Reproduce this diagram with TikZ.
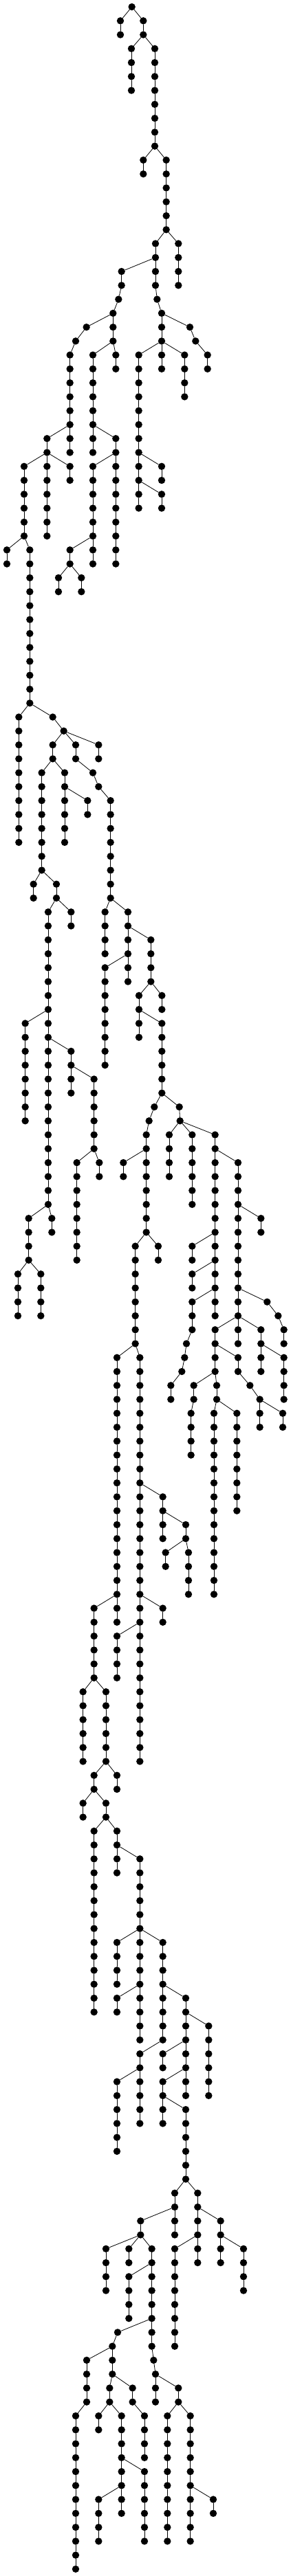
\documentclass[tikz,border=0pt]{standalone}
\begin{document}
\begin{tikzpicture}[x=0.33333pt,y=-20.266pt,line join=round,line cap=round,
	vtx/.style={circle,fill=black,inner sep=0pt,minimum size=10.4pt},
	link/.style={line width=0.8pt}]
	\useasboundingbox (0,-0.4934) rectangle (1269,184.5);
	% x/first row/last row
	\def\cols{575/0/0, 525/1/2, 625/1/2, 573/3/6, 675/3/10, 625/11/12, 725/11/16,
		778/17/20, 678/17/20, 685/21/21, 705/22/26, 530/19/20, 517/21/21, 493/22/24,
		377/23/23, 330/24/24, 305/25/32, 405/25/32, 505/25/26, 828/23/23, 853/24/24,
		905/25/26, 605/25/36, 805/25/28, 205/31/38, 105/33/38, 305/33/34, 30/39/40,
		130/39/50, 505/31/40, 405/33/40, 305/39/40, 255/41/42, 355/41/42, 705/33/34,
		705/35/36, 82/51/60, 230/51/51, 278/52/52, 230/53/54, 330/53/54, 430/53/54,
		405/55/55, 430/56/56, 482/57/64, 182/55/62, 282/55/60, 382/57/58, 146/63/64,
		246/63/64, 210/65/86, 310/65/66, 110/73/80, 310/75/78, 410/77/82, 433/83/84,
		335/83/90, 125/87/90, 226/87/88, 78/91/94, 178/91/94, 458/65/68, 558/65/70,
		658/67/70, 458/69/76, 606/71/74, 706/71/72, 706/73/78, 673/79/79, 650/80/80,
		638/81/88, 538/83/84, 690/89/90, 590/89/96, 782/79/79, 785/80/80, 738/81/84,
		838/81/86, 938/81/94, 1038/83/96, 1138/87/88, 838/89/90, 838/91/92, 838/93/95,
		813/96/96, 805/97/97, 793/98/98, 745/99/100, 1165/93/93, 1213/94/94,
		1238/95/96, 938/95/98, 1138/95/98, 1238/97/100, 1038/97/98, 1090/99/99,
		1133/100/102, 1233/101/102, 845/99/100, 833/101/104, 945/99/100, 933/101/114,
		1033/101/108, 510/97/116, 610/97/126, 710/107/110, 810/109/110, 722/111/112,
		822/111/114, 410/115/120, 710/115/116, 510/117/120, 362/121/126, 462/121/126,
		410/127/128, 510/127/128, 362/129/130, 462/129/130, 410/131/144, 510/131/134,
		610/133/146, 510/139/142, 710/139/146, 510/143/144, 810/143/150, 910/145/150,
		610/147/152, 710/147/148, 710/149/152, 810/151/156, 510/149/154, 762/157/160,
		862/157/162, 613/159/160, 962/159/162, 762/161/168, 1062/161/164, 462/161/164,
		562/161/162, 662/161/168, 562/163/166, 513/167/167, 490/168/170, 670/169/169,
		678/170/172, 778/171/172, 730/173/182, 830/173/182, 930/179/180, 378/169/172,
		330/173/184, 478/171/172, 578/171/172, 430/173/174, 530/173/180, 630/177/182,
		430/179/182, 630/173/176}
	% parent x/row/child x
	\def\forks{575/0/525, 575/0/625, 625/2/573, 625/2/675, 675/10/625, 675/10/725,
		725/16/778, 725/16/678, 678/20/685, 685/21/705, 678/18/530, 530/20/517,
		517/21/493, 493/22/377, 377/23/330, 330/24/305, 493/24/405, 493/24/505,
		705/22/828, 828/23/853, 853/24/905, 705/24/605, 705/24/805, 305/30/205,
		205/32/105, 205/32/305, 105/38/30, 105/38/130, 405/30/505, 505/32/405,
		405/38/305, 305/40/255, 305/40/355, 605/32/705, 605/34/705, 130/50/82,
		130/50/230, 230/51/278, 278/52/230, 278/52/330, 278/52/430, 330/54/405,
		405/55/430, 430/56/482, 230/54/182, 230/54/282, 282/56/382, 182/62/146,
		182/62/246, 246/64/210, 246/64/310, 210/72/110, 210/74/310, 310/76/410,
		410/82/433, 410/82/335, 210/86/125, 210/86/226, 125/90/78, 125/90/178,
		482/64/458, 482/64/558, 558/66/658, 558/68/458, 658/70/606, 658/70/706,
		606/72/706, 706/78/673, 673/79/650, 650/80/638, 638/82/538, 638/88/690,
		638/88/590, 706/78/782, 782/79/785, 785/80/738, 785/80/838, 785/80/938,
		938/82/1038, 1038/86/1138, 938/88/838, 938/90/838, 938/92/838, 838/95/813,
		813/96/805, 805/97/793, 793/98/745, 1038/92/1165, 1165/93/1213, 1213/94/1238,
		1038/94/938, 1038/94/1138, 1138/96/1238, 938/96/1038, 1038/98/1090,
		1090/99/1133, 1133/100/1233, 938/98/845, 845/100/833, 938/98/945,
		945/100/933, 945/100/1033, 590/96/510, 590/96/610, 610/106/710, 710/108/810,
		810/110/722, 810/110/822, 510/114/410, 610/114/710, 610/116/510, 410/120/362,
		410/120/462, 462/126/410, 462/126/510, 410/128/362, 410/128/462, 462/130/410,
		462/130/510, 510/132/610, 610/138/510, 610/138/710, 610/142/510, 710/142/810,
		810/144/910, 710/146/610, 810/146/710, 810/148/710, 710/150/810, 610/148/510,
		810/156/762, 810/156/862, 762/158/613, 862/158/962, 862/160/762, 962/160/1062,
		613/160/462, 613/160/562, 613/160/662, 662/162/562, 662/166/513, 513/167/490,
		662/168/670, 670/169/678, 678/170/778, 778/172/730, 778/172/830, 830/178/930,
		490/168/378, 378/172/330, 490/170/478, 490/170/578, 478/172/430, 478/172/530,
		530/176/630, 530/178/430, 578/172/630}
	\foreach \x/\a/\b in \cols {
		\foreach \r in {\a,...,\b}
		\node[vtx] (n\x-\r) at (\x,\r) {};
		\ifnum\a<\b
		\pgfmathtruncatemacro\nxt{\a+1}
		\foreach \r in {\nxt,...,\b}{
			\pgfmathtruncatemacro\prv{\r-1}
			\draw[link] (n\x-\prv) -- (n\x-\r);
		}
		\fi
	}
	\foreach \p/\r/\q in \forks {
		\pgfmathtruncatemacro\nxt{\r+1}
		\draw[link] (n\p-\r) -- (n\q-\nxt);
	}
\end{tikzpicture}
\end{document}
